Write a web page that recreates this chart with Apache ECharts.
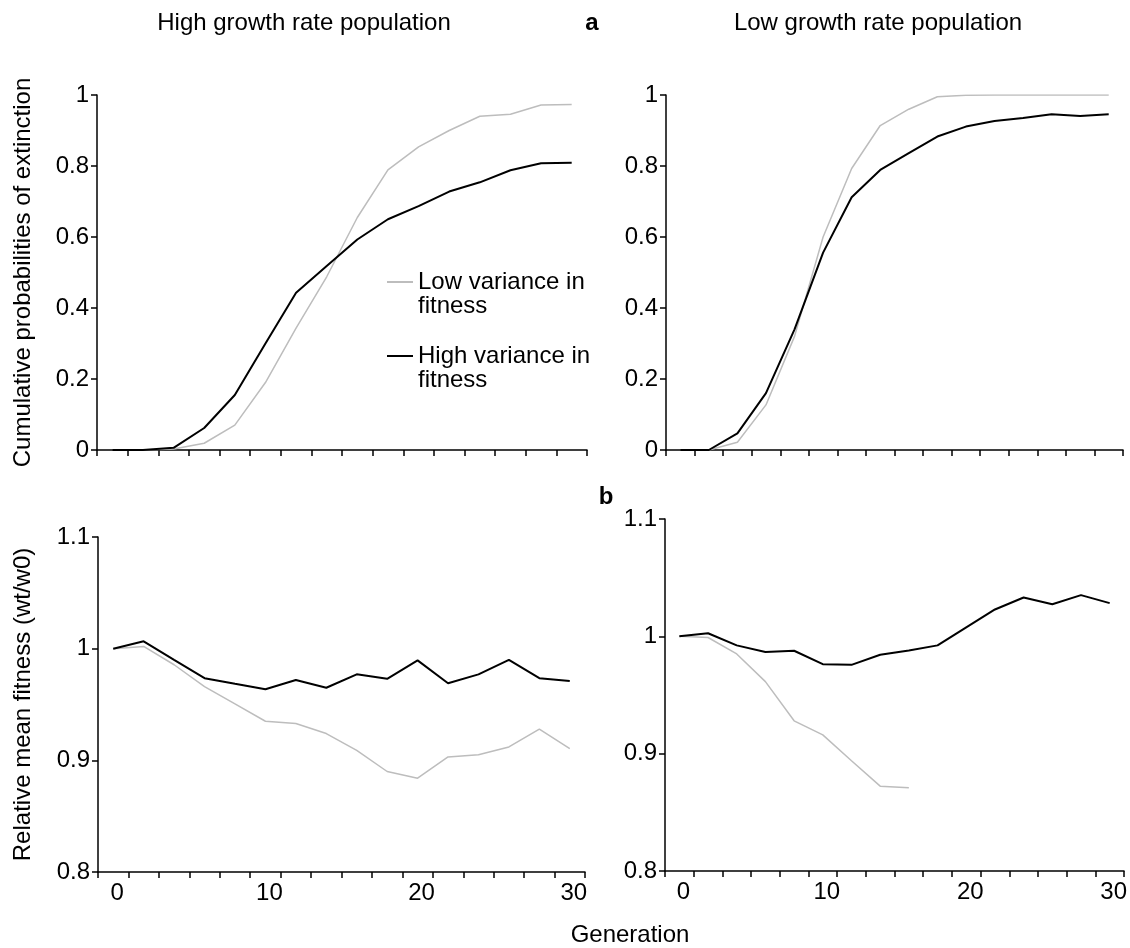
<!DOCTYPE html>
<html>
<head>
<meta charset="utf-8">
<script src="https://cdn.jsdelivr.net/npm/echarts@6/dist/echarts.min.js"></script>
<style>
  html, body { margin: 0; padding: 0; background: #fff; }
  #chart { width: 1130px; height: 948px; }
</style>
</head>
<body>
<div id="chart"></div>
<script>
// generations (one category every 2 generations)
var generations = ['0','2','4','6','8','10','12','14','16','18','20','22','24','26','28','30'];
var xLabels = ['0','10','20','30'];

// a: cumulative probability of extinction
var extHighGrowthLowVar  = [0, 0, 0.003, 0.019, 0.070, 0.19, 0.343, 0.488, 0.655, 0.789, 0.854, 0.90, 0.94, 0.946, 0.972, 0.973];
var extHighGrowthHighVar = [0, 0, 0.006, 0.062, 0.155, 0.30, 0.443, 0.518, 0.593, 0.65, 0.687, 0.728, 0.754, 0.788, 0.808, 0.809];
var extLowGrowthLowVar   = [0, 0, 0.022, 0.127, 0.32, 0.60, 0.793, 0.914, 0.96, 0.995, 0.999, 1, 1, 1, 1, 1];
var extLowGrowthHighVar  = [0, 0, 0.047, 0.16, 0.34, 0.556, 0.712, 0.789, 0.836, 0.883, 0.911, 0.927, 0.935, 0.946, 0.941, 0.946];

// b: relative mean fitness (wt/w0)
var fitHighGrowthLowVar  = [1.0, 1.002, 0.9856, 0.966, 0.9505, 0.935, 0.933, 0.924, 0.909, 0.890, 0.884, 0.903, 0.905, 0.912, 0.928, 0.9105];
var fitHighGrowthHighVar = [1.0, 1.0066, 0.990, 0.9736, 0.9685, 0.9637, 0.972, 0.965, 0.977, 0.973, 0.9895, 0.969, 0.977, 0.990, 0.9736, 0.971];
var fitLowGrowthLowVar   = [1.0, 0.999, 0.985, 0.9614, 0.928, 0.916, 0.894, 0.8723, 0.871, null, null, null, null, null, null, null];
var fitLowGrowthHighVar  = [1.0, 1.0026, 0.9923, 0.9866, 0.9877, 0.9763, 0.9757, 0.9843, 0.988, 0.9923, 1.0077, 1.0229, 1.0331, 1.0274, 1.0351, 1.0283];

var LOW = 'Low variance in fitness';
var HIGH = 'High variance in fitness';
var font = "'Liberation Sans', Arial, Helvetica, sans-serif";
var gray = '#bdbdbd';

var chart = echarts.init(document.getElementById('chart'));

function xAxis(gridIndex, showLabels) {
    return {
        type: 'category',
        gridIndex: gridIndex,
        data: generations,
        boundaryGap: true,
        axisLine: { show: true, lineStyle: { color: '#000', width: 1.5 } },
        axisTick: { show: true, interval: 0, alignWithLabel: false, length: 6, lineStyle: { color: '#000', width: 1.5 } },
        axisLabel: {
            show: showLabels,
            interval: function (idx, val) { return xLabels.indexOf(val) >= 0; },
            color: '#000', fontSize: 24, fontFamily: font, margin: 9,
            padding: [0, 0, 0, 8]
        },
        splitLine: { show: false }
    };
}

function yAxis(gridIndex, min, max, interval, name, gap) {
    return {
        type: 'value',
        gridIndex: gridIndex,
        min: min, max: max, interval: interval,
        name: name,
        nameLocation: 'middle',
        nameRotate: 90,
        nameGap: gap,
        nameTextStyle: { color: '#000', fontSize: 24, fontFamily: font },
        axisLine: { show: true, lineStyle: { color: '#000', width: 1.5 } },
        axisTick: { show: true, length: 6, lineStyle: { color: '#000', width: 1.5 } },
        axisLabel: {
            color: '#000', fontSize: 24, fontFamily: font, margin: 8,
            formatter: function (v) { return String(+v.toFixed(1)); }
        },
        splitLine: { show: false }
    };
}

function line(name, idx, data, color, width) {
    return {
        name: name, type: 'line',
        xAxisIndex: idx, yAxisIndex: idx,
        data: data,
        symbol: 'none',
        connectNulls: false,
        lineStyle: { color: color, width: width },
        itemStyle: { color: color },
        silent: true
    };
}

chart.setOption({
    animation: false,
    backgroundColor: '#fff',
    grid: [
        { left: 97, top: 95, width: 490, height: 355 },
        { left: 666, top: 95, width: 457, height: 355 },
        { left: 98, top: 537, width: 487, height: 335 },
        { left: 665, top: 519, width: 460, height: 352 }
    ],
    xAxis: [xAxis(0, false), xAxis(1, false), xAxis(2, true), xAxis(3, true)],
    yAxis: [
        yAxis(0, 0, 1, 0.2, 'Cumulative probabilities of extinction', 62),
        yAxis(1, 0, 1, 0.2, '', 0),
        yAxis(2, 0.8, 1.1, 0.1, 'Relative mean fitness (wt/w0)', 63),
        yAxis(3, 0.8, 1.1, 0.1, '', 0)
    ],
    legend: {
        orient: 'vertical',
        left: 387, top: 246,
        padding: 0,
        itemGap: 2,
        itemWidth: 26,
        itemHeight: 2,
        selectedMode: false,
        data: [
            { name: LOW, icon: 'rect', itemStyle: { color: gray } },
            { name: HIGH, icon: 'rect', itemStyle: { color: '#000' } }
        ],
        // blank first line keeps the sample line level with the first text line
        formatter: function (n) { return '\n' + n.replace(' in ', ' in\n'); },
        textStyle: { color: '#000', fontSize: 24, fontFamily: font, lineHeight: 24 }
    },
    series: [
        line(LOW, 0, extHighGrowthLowVar, gray, 1.5),
        line(HIGH, 0, extHighGrowthHighVar, '#000', 2),
        line(LOW, 1, extLowGrowthLowVar, gray, 1.5),
        line(HIGH, 1, extLowGrowthHighVar, '#000', 2),
        line(LOW, 2, fitHighGrowthLowVar, gray, 1.5),
        line(HIGH, 2, fitHighGrowthHighVar, '#000', 2),
        line(LOW, 3, fitLowGrowthLowVar, gray, 1.5),
        line(HIGH, 3, fitLowGrowthHighVar, '#000', 2)
    ],
    graphic: [
        { type: 'text', x: 304, y: 23, style: { text: 'High growth rate population', font: '24px ' + font, fill: '#000', align: 'center', verticalAlign: 'middle' } },
        { type: 'text', x: 592, y: 23, style: { text: 'a', font: 'bold 24px ' + font, fill: '#000', align: 'center', verticalAlign: 'middle' } },
        { type: 'text', x: 878, y: 23, style: { text: 'Low growth rate population', font: '24px ' + font, fill: '#000', align: 'center', verticalAlign: 'middle' } },
        { type: 'text', x: 606, y: 497, style: { text: 'b', font: 'bold 24px ' + font, fill: '#000', align: 'center', verticalAlign: 'middle' } },
        { type: 'text', x: 630, y: 935, style: { text: 'Generation', font: '24px ' + font, fill: '#000', align: 'center', verticalAlign: 'middle' } }
    ]
});
</script>
</body>
</html>
